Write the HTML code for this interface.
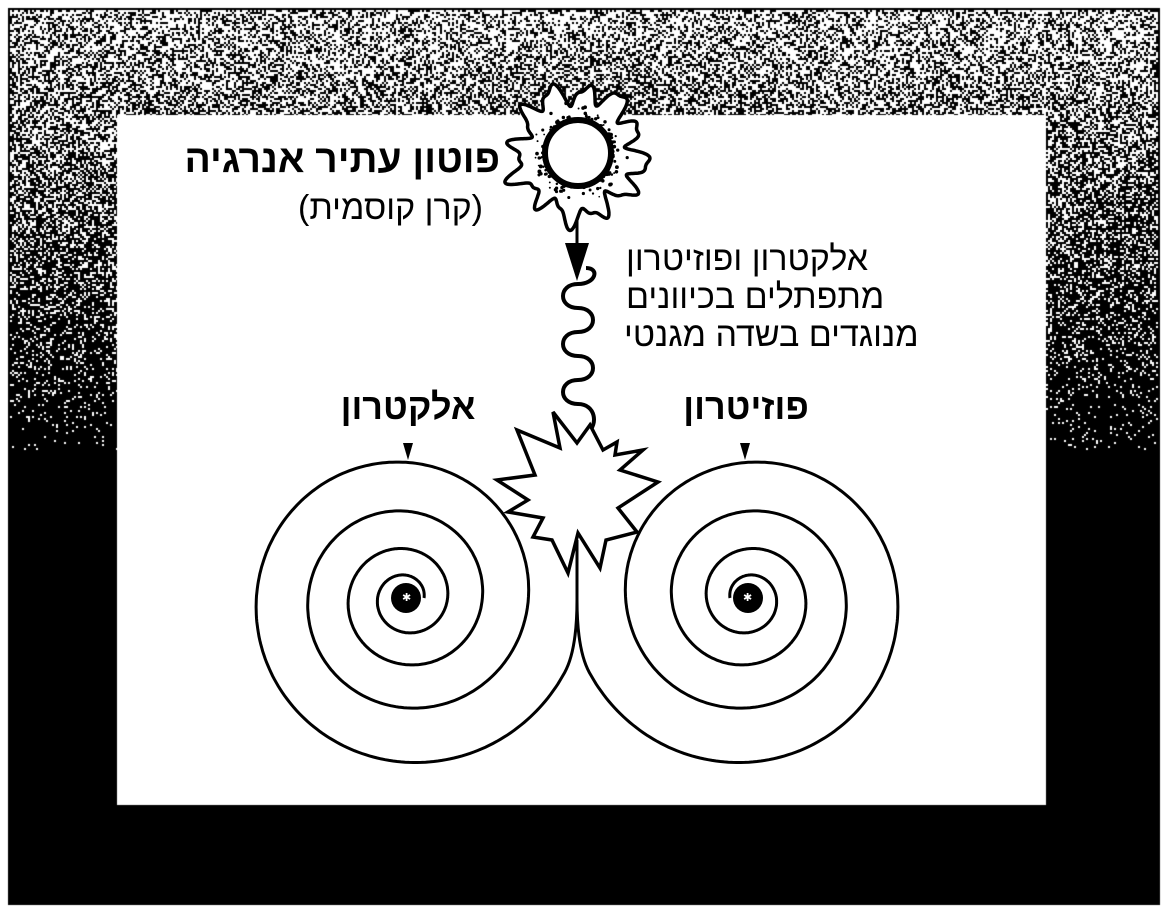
<!DOCTYPE html>
<html><head><meta charset="utf-8"><style>
html,body{margin:0;padding:0;background:#fff}
#wrap{position:relative;width:1167px;height:912px;overflow:hidden}
canvas,svg{position:absolute;left:0;top:0}
.t{position:absolute;font-family:"Liberation Sans","DejaVu Sans",sans-serif;color:#000;white-space:nowrap;direction:rtl}
</style></head><body><div id="wrap">
<canvas id="c" width="1167" height="912"></canvas>
<svg id="s" width="1167" height="912" viewBox="0 0 1167 912"></svg>
<div class="t" style="right:667px;top:138px;font-size:39px;font-weight:bold">פוטון עתיר אנרגיה</div>
<div class="t" style="right:684px;top:189px;font-size:34px">(קרן קוסמית)</div>
<div class="t" style="left:626px;top:240px;font-size:34px">אלקטרון ופוזיטרון</div>
<div class="t" style="left:626px;top:278px;font-size:34px">מתפתלים בכיוונים</div>
<div class="t" style="left:624px;top:316px;font-size:34px">מנוגדים בשדה מגנטי</div>
<div class="t" style="left:408px;top:386px;transform:translateX(-50%);font-size:36px;font-weight:bold">אלקטרון</div>
<div class="t" style="left:746px;top:386px;transform:translateX(-50%);font-size:36px;font-weight:bold">פוזיטרון</div>
</div>
<script>
var c=document.getElementById('c').getContext('2d');
c.fillStyle='#fff';c.fillRect(0,0,1167,912);
c.fillStyle='#000';c.fillRect(8,8,1152,897);
c.fillStyle='#fff';
var seed=7;function R(){seed=(seed*16807)%2147483647;return seed/2147483647;}
for(var y=10;y<470;y+=2){for(var x=10;x<1158;x+=2){
 if(x>117&&x<1046&&y>115)continue;
 var p=0.62*Math.max(0,1-(y-10)/430)+0.04*(y<450?1:0);
 if(R()<p)c.fillRect(x,y,2,2);
}}
c.fillStyle='#fff';c.fillRect(117,115,929,690);
var s=document.getElementById('s'),NS='http://www.w3.org/2000/svg';
function el(n,a){var e=document.createElementNS(NS,n);for(var k in a)e.setAttribute(k,a[k]);s.appendChild(e);return e;}
var cx=578,cy=153,pts=[];
for(var i=0;i<=720;i++){var a=i/720*2*Math.PI;var r=62+9*Math.sin(a*12)+4*Math.sin(a*23+1)+4*Math.sin(a*5);pts.push((cx+r*Math.cos(a)).toFixed(1)+','+(cy+r*Math.sin(a)).toFixed(1));}
el('polygon',{points:pts.join(' '),fill:'#fff',stroke:'#000','stroke-width':3.5});
for(var i=0;i<140;i++){var a=R()*6.283,r=34+R()*R()*18;el('circle',{cx:cx+r*Math.cos(a),cy:cy+r*Math.sin(a),r:0.8+R()*1.2,fill:'#000'});}
el('circle',{cx:cx,cy:cy,r:33,fill:'#fff',stroke:'#000','stroke-width':6});
el('line',{x1:577,y1:220,x2:577,y2:250,stroke:'#000','stroke-width':3});
el('polygon',{points:'565,243 589,243 577,281',fill:'#000'});
el('path',{d:'M586,268 C600,268 596,284 578,284 C558,284 558,308 578,308 C598,308 598,332 578,332 C558,332 558,356 578,356 C598,356 598,380 578,380 C558,380 558,404 578,404 C596,404 598,425 588,432',fill:'none',stroke:'#000','stroke-width':4});
el('polygon',{points:'553,412 560,448 517,430 535,475 497,480 528,500 508,512 543,518 533,537 552,540 568,573 578,533 600,568 606,540 637,532 618,508 658,482 620,470 643,450 615,455 617,442 603,450 590,425 577,443',fill:'#fff',stroke:'#000','stroke-width':3.5});
function spiral(sign){var X0=406,Y0=598,d='';
 for(var i=0;i<=1000;i++){var t=i/1000*3.93;var r=18+18*t+5.6*t*t;var ph=-2*Math.PI*t;
  var x=X0+r*Math.cos(ph),yy=Y0+r*Math.sin(ph);if(sign<0)x=1154-x;
  d+=(i?' L':'M')+x.toFixed(1)+','+yy.toFixed(1);}
 d+=' Q577,650 577,600';
 el('path',{d:d,fill:'none',stroke:'#000','stroke-width':3});
}
spiral(1);spiral(-1);
el('line',{x1:577,y1:540,x2:577,y2:610,stroke:'#000','stroke-width':3});
el('circle',{cx:406,cy:598,r:15,fill:'#000'});el('circle',{cx:748,cy:598,r:15,fill:'#000'});
el('text',{x:402,y:601,'font-size':11,fill:'#fff','font-family':'DejaVu Sans'}).textContent='✱';
el('text',{x:743,y:601,'font-size':11,fill:'#fff','font-family':'DejaVu Sans'}).textContent='✱';
el('polygon',{points:'403,443 413,443 408,460',fill:'#000'});
el('polygon',{points:'740,443 750,443 745,460',fill:'#000'});
</script>
</body></html>
